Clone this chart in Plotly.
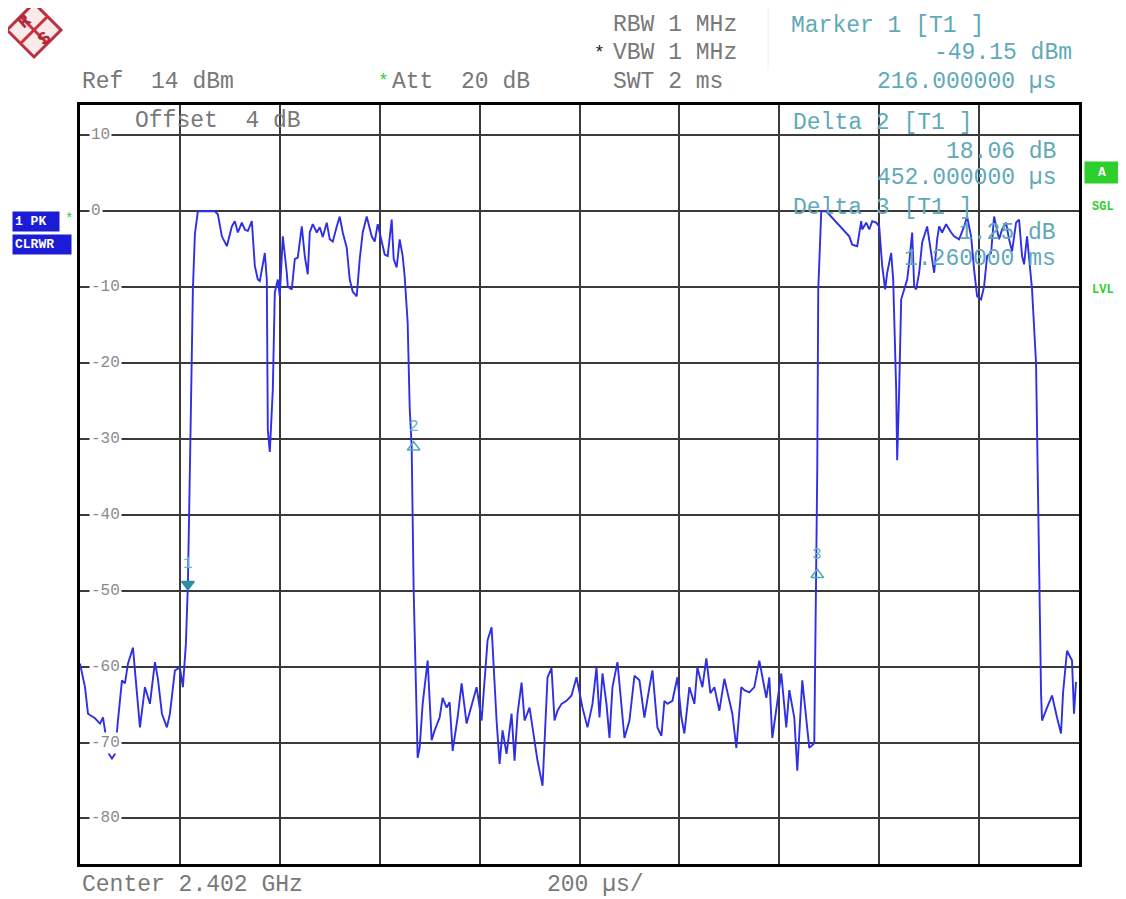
import plotly.graph_objects as go

# ---------------- data ----------------
time_us = [
    0, 10, 16, 30, 40, 46, 50, 56, 64, 70, 76, 84, 90, 96, 106, 110, 120, 130, 140, 150,
    156, 164, 174, 180, 190, 200, 206, 212, 216, 220, 226, 230, 236, 256, 270, 276, 284, 294,
    304, 310, 316, 324, 330, 336, 344, 350, 356, 360, 370, 374, 376, 380, 386, 390, 396, 400,
    406, 414, 416, 424, 430, 436, 444, 450, 456, 460, 466, 474, 480, 486, 494, 500, 506, 514,
    520, 526, 534, 540, 546, 554, 560, 566, 574, 584, 590, 596, 604, 610, 616, 624, 628, 634,
    640, 646, 650, 656, 660, 664, 668, 672, 674, 676, 680, 686, 696, 704, 710, 720, 726, 734,
    740, 746, 756, 764, 774, 784, 794, 804, 810, 816, 824, 828, 834, 840, 846, 854, 864, 870,
    876, 884, 890, 900, 910, 916, 926, 936, 944, 950, 956, 964, 974, 984, 994, 1004, 1006, 1016,
    1026, 1034, 1040, 1046, 1054, 1060, 1066, 1076, 1084, 1090, 1100, 1110, 1120, 1130, 1140,
    1146, 1156, 1164, 1170, 1176, 1186, 1196, 1204, 1210, 1220, 1230, 1236, 1246, 1254, 1262,
    1270, 1280, 1290, 1296, 1306, 1314, 1324, 1330, 1340, 1350, 1360, 1374, 1380, 1386, 1396,
    1404, 1414, 1420, 1430, 1436, 1446, 1454, 1460, 1470, 1474, 1476, 1478, 1484, 1494, 1540,
    1546, 1556, 1564, 1566, 1574, 1580, 1586, 1594, 1600, 1606, 1612, 1616, 1624, 1628, 1634,
    1636, 1640, 1644, 1650, 1656, 1660, 1666, 1670, 1674, 1680, 1686, 1696, 1704, 1710, 1716,
    1720, 1726, 1734, 1744, 1750, 1760, 1770, 1776, 1784, 1790, 1796, 1804, 1810, 1816, 1824,
    1830, 1840, 1846, 1854, 1860, 1866, 1874, 1880, 1886, 1890, 1896, 1902, 1906, 1914, 1916,
    1920, 1924, 1926, 1936, 1946, 1956, 1964, 1968, 1976, 1986, 1990, 1994, 1998,
]
level_dbm = [
    -59.6, -62.7, -66.2, -66.8, -67.5, -66.7, -68.4, -71.3, -72.1, -71.5, -67.1, -61.8, -62.2,
    -59.6, -57.5, -60.5, -68.0, -62.7, -64.9, -59.4, -61.6, -66.2, -68.0, -66.2, -60.5, -60.1,
    -62.7, -57.0, -49.15, -34.0, -10.3, -3.0, 0.0, 0.0, 0.0, -0.4, -3.3, -4.6, -2.0, -1.3, -2.8,
    -1.5, -2.4, -2.6, -1.3, -7.2, -9.0, -9.2, -5.5, -9.0, -28.8, -31.7, -23.5, -10.7, -9.0,
    -11.2, -3.3, -8.1, -9.9, -10.3, -6.3, -6.1, -2.0, -5.9, -8.3, -2.8, -1.7, -2.8, -2.1, -3.4,
    -1.5, -3.7, -4.0, -2.0, -0.7, -2.8, -4.8, -9.0, -10.6, -11.2, -6.3, -2.8, -0.7, -3.3, -4.0,
    -1.7, -4.0, -5.7, -5.9, -1.1, -6.3, -7.4, -3.7, -5.9, -8.6, -14.7, -25.8, -31.09, -50.0,
    -62.0, -69.7, -72.0, -70.7, -64.9, -59.2, -69.7, -68.4, -66.7, -64.1, -65.4, -64.7, -71.1,
    -66.7, -62.2, -67.5, -64.9, -62.7, -67.1, -61.4, -56.5, -54.8, -60.5, -67.1, -72.8, -68.4,
    -71.5, -66.2, -72.4, -66.2, -62.1, -67.1, -65.4, -69.4, -72.4, -75.7, -61.4, -60.2, -67.1,
    -65.8, -64.9, -64.5, -63.8, -61.4, -64.9, -65.4, -68.0, -64.9, -60.1, -66.7, -60.9, -64.9,
    -69.4, -62.7, -59.4, -65.8, -69.4, -67.1, -61.2, -61.8, -66.7, -62.7, -60.5, -68.0, -69.1,
    -64.5, -64.9, -64.5, -61.4, -66.7, -68.8, -62.7, -64.9, -60.1, -62.7, -58.9, -63.5, -62.7,
    -65.8, -61.6, -63.5, -66.2, -70.7, -62.7, -63.1, -63.4, -62.7, -59.2, -64.1, -61.4, -69.4,
    -64.9, -60.9, -68.0, -63.1, -66.7, -73.7, -61.8, -67.1, -70.7, -70.1, -47.9, -34.0, -10.3,
    0.0, 0.0, -3.3, -4.4, -4.6, -1.3, -2.4, -1.5, -2.4, -1.3, -1.5, -2.0, -7.2, -10.3, -8.1,
    -5.5, -9.0, -23.5, -32.8, -23.5, -11.6, -10.3, -9.0, -6.8, -2.8, -9.9, -10.3, -8.1, -4.1,
    -2.0, -5.9, -8.1, -3.7, -2.0, -2.8, -1.7, -2.8, -3.3, -3.7, -2.0, -0.7, -3.3, -7.7, -11.2,
    -11.6, -9.9, -5.9, -5.5, -0.7, -3.7, -2.4, -1.5, -3.7, -5.3, -1.5, -1.1, -5.9, -7.0, -3.3,
    -7.2, -10.3, -20.0, -30.5, -46.0, -63.5, -67.1, -65.4, -63.8, -66.7, -68.8, -63.5, -57.9,
    -59.2, -66.2, -62.0,
]

marker_names = ["1", "2", "3"]
marker_time_us = [216, 668, 1476]
marker_level_dbm = [-49.15, -31.09, -47.9]

y_tick_values = [10, 0, -10, -20, -30, -40, -50, -60, -70, -80]
y_tick_labels = ["10", "0", "-10", "-20", "-30", "-40", "-50", "-60", "-70", "-80"]
x_grid_values = [0, 200, 400, 600, 800, 1000, 1200, 1400, 1600, 1800, 2000]

# ---------------- layout helpers ----------------
# The page body adds an 8 px margin, so the figure is drawn 8 px smaller and
# all screen positions below are given in window pixels.
OFF = 8
WIN_W, WIN_H = 1126, 899
W, H = WIN_W - OFF, WIN_H - OFF
L, R, T, B = 80, 1079, 105, 864  # plot area in window pixels


def px(x):
    return (x - L) / (R - L)


def py(y):
    return (B - y) / (B - T)


FONT = "Liberation Mono, Courier New, monospace"
GRAY = "#787878"
CYAN = "#5fa9b9"
GREEN = "#2ccf2c"
FS = 23

fig = go.Figure()

fig.add_trace(go.Scatter(
    x=time_us, y=level_dbm, mode="lines",
    line=dict(color="#2f2fe6", width=1.9),
    hoverinfo="skip", showlegend=False,
))

fig.add_trace(go.Scatter(
    x=marker_time_us, y=marker_level_dbm, mode="markers",
    marker=dict(symbol=["triangle-down", "triangle-up-open", "triangle-up-open"],
                color=["#2a8f9f", "#4aaabb", "#4aaabb"], size=11,
                line=dict(width=1.5, color=["#2a8f9f", "#4aaabb", "#4aaabb"])),
    hoverinfo="skip", showlegend=False,
))

annotations = []


def ann(text, x, y, color=GRAY, size=FS, xanchor="left", bg=None, **kw):
    d = dict(text=text, x=px(x), y=py(y), xref="paper", yref="paper",
             xanchor=xanchor, yanchor="middle", showarrow=False,
             font=dict(family=FONT, size=size, color=color))
    if bg:
        d["bgcolor"] = bg
    d.update(kw)
    annotations.append(d)


for name, t, v in zip(marker_names, marker_time_us, marker_level_dbm):
    annotations.append(dict(text=name, x=t, y=v, xref="x", yref="y", showarrow=False,
                            yshift=20, font=dict(family=FONT, size=16, color="#6ab4c4")))

for v, lab in zip(y_tick_values, y_tick_labels):
    annotations.append(dict(text=lab, x=px(89), y=v, xref="paper", yref="y",
                            xanchor="left", yanchor="middle", showarrow=False,
                            bgcolor="white", borderpad=1,
                            font=dict(family=FONT, size=16, color="#8a8a8a")))

# header texts
ann("Ref  14 dBm", 80, 82)
ann("*", 376, 81, color=GREEN, size=18)
ann("Att  20 dB", 390, 82)
ann("RBW 1 MHz", 611, 25)
ann("*", 592, 53, color="#222222", size=18)
ann("VBW 1 MHz", 611, 53)
ann("SWT 2 ms", 611, 82)
ann("Marker 1 [T1 ]", 789, 26, color=CYAN)
ann("-49.15 dBm", 1074, 53, color=CYAN, xanchor="right")
ann("216.000000 \u00b5s", 1058, 82, color=CYAN, xanchor="right")

# in-plot texts
ann("Offset  4 dB", 133, 121)
ann("Delta 2 [T1 ]", 791, 123, color=CYAN)
ann("18.06 dB", 1058, 152, color=CYAN, xanchor="right")
ann("452.000000 \u00b5s", 1058, 178, color=CYAN, xanchor="right")
ann("Delta 3 [T1 ]", 791, 208, color=CYAN)
ann("1.25 dB", 1058, 233, color=CYAN, xanchor="right")
ann("1.260000 ms", 1058, 259, color=CYAN, xanchor="right")

# footer
ann("Center 2.402 GHz", 80, 885)
ann("200 \u00b5s/", 545, 885)

# left badges
ann("<b>1 PK</b>", 12, 221, color="white", size=13, bg="#1c1cd6", borderpad=2,
    width=42, align="left")
ann("*", 63, 219, color=GREEN, size=14)
ann("<b>CLRWR</b>", 12, 245, color="white", size=13, bg="#1c1cd6", borderpad=2,
    width=54, align="left")

# right badges
ann("<b>A</b>", 1102, 173, color="white", size=13, xanchor="center", bg=GREEN,
    borderpad=3, width=28)
ann("<b>SGL</b>", 1103, 207, color=GREEN, size=12, xanchor="center")
ann("<b>LVL</b>", 1103, 290, color=GREEN, size=12, xanchor="center")

# logo letters
ann("<b>R</b>", 24, 22, color="#b02838", size=18, xanchor="center", textangle=-40)
ann("<b>S</b>", 44, 39, color="#b02838", size=18, xanchor="center", textangle=-40)

shapes = []
shapes.append(dict(type="path", xref="paper", yref="paper",
                   path=f"M {px(34)} {py(3)} L {px(61)} {py(30)} L {px(34)} {py(57)} L {px(7)} {py(30)} Z",
                   line=dict(color="#b83040", width=3), fillcolor="#fbeaea"))
shapes.append(dict(type="line", xref="paper", yref="paper",
                   x0=px(20), y0=py(16), x1=px(48), y1=py(44),
                   line=dict(color="#c8303c", width=3)))
shapes.append(dict(type="line", xref="paper", yref="paper",
                   x0=px(48), y0=py(16), x1=px(20), y1=py(44),
                   line=dict(color="#c8303c", width=3)))
shapes.append(dict(type="line", xref="paper", yref="paper",
                   x0=px(768), y0=py(8), x1=px(768), y1=py(70),
                   line=dict(color="#eeeeee", width=1)))

fig.update_layout(
    width=W, height=H,
    margin=dict(l=L - OFF, r=WIN_W - R, t=T - OFF, b=WIN_H - B, pad=0),
    paper_bgcolor="white", plot_bgcolor="white",
    xaxis=dict(range=[0, 2000], tickvals=x_grid_values, showticklabels=False,
               showgrid=True, gridcolor="#3a3a3a", gridwidth=1.5, zeroline=False,
               showline=True, mirror=True, linecolor="black", linewidth=3, ticks=""),
    yaxis=dict(range=[-86, 14], tickvals=y_tick_values, showticklabels=False,
               showgrid=True, gridcolor="#3a3a3a", gridwidth=1.5, zeroline=False,
               showline=True, mirror=True, linecolor="black", linewidth=3, ticks=""),
    annotations=annotations, shapes=shapes, showlegend=False,
)

fig.write_html("out.html")
